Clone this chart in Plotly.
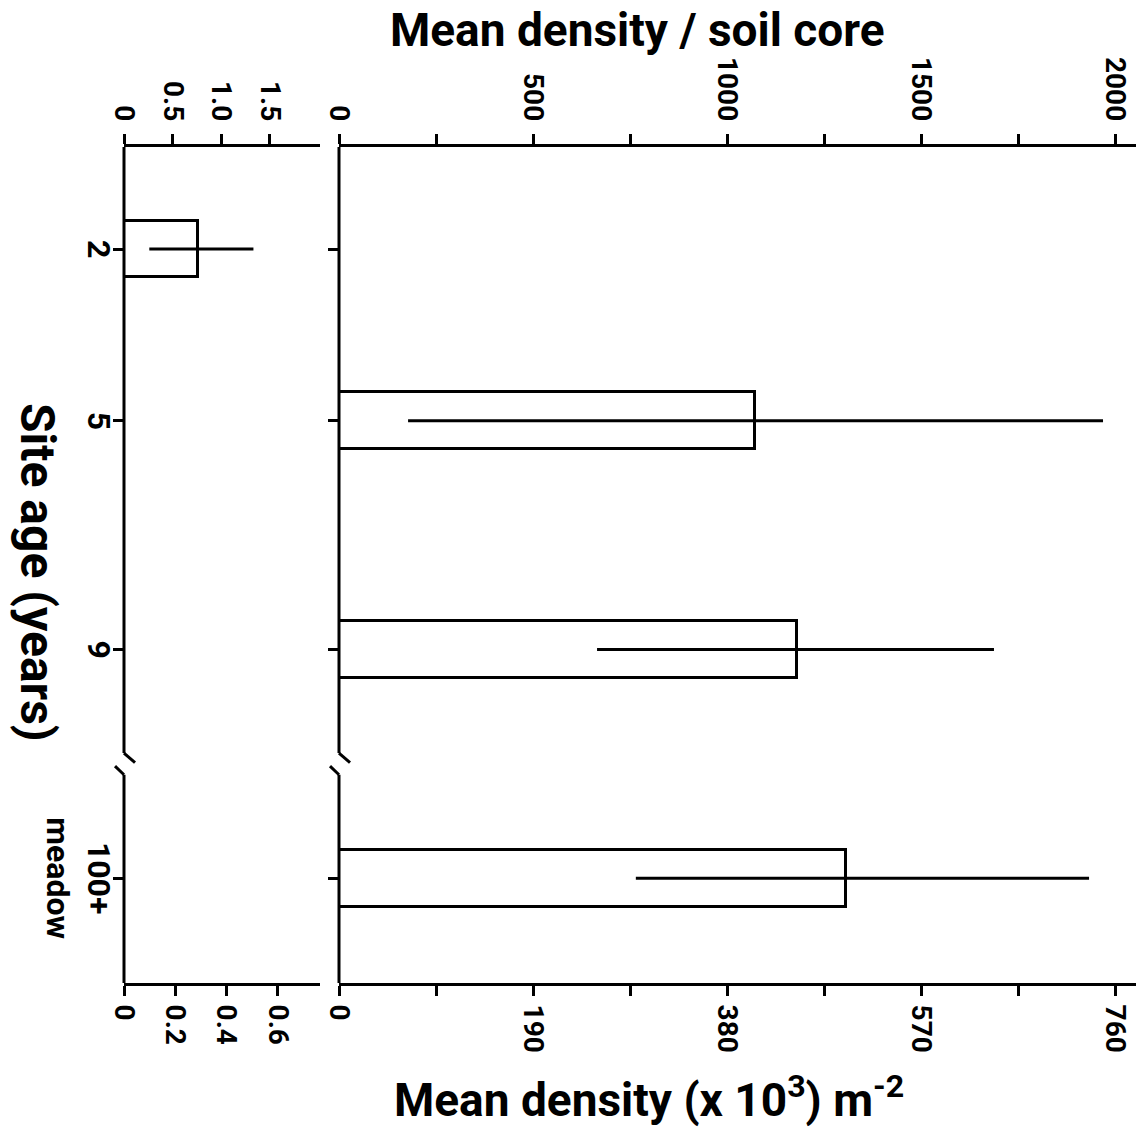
import plotly.graph_objects as go

# ---------------- data ----------------
site_labels = ["2", "5", "9", "100+<br>meadow"]
site_age = [2, 5, 9, 13]          # 100+ meadow drawn after the axis break
mean_core = [0.76, 1072, 1180, 1307]   # mean density per soil core
err_plus = [0.57, 897, 508, 626]
err_minus = [0.50, 894, 515, 542]
core_to_m2 = 0.38                 # (x10^3 m^-2) per (individuals / core)

left_top_ticks = [0, 0.5, 1.0, 1.5]
left_top_text = ["0", "0.5", "1.0", "1.5"]
left_bot_ticks = [0, 0.2, 0.4, 0.6]
left_bot_text = ["0", "0.2", "0.4", "0.6"]
right_top_ticks = [0, 500, 1000, 1500, 2000]
right_top_text = ["0", "500", "1000", "1500", "2000"]
right_top_minor = [250, 750, 1250, 1750]
right_bot_ticks = [0, 190, 380, 570, 760]
right_bot_text = ["0", "190", "380", "570", "760"]
right_bot_minor = [95, 285, 475, 665]

# ---------------- layout geometry (pixels) ----------------
W, H = 1142, 1133
LX0, LX1 = 124, 320
RX0, RX1 = 339, 1136
YT, YB = 147, 983
left_max = 2.014
right_max = 2054
y_range = [14.83, 0.217]
break_lo, break_hi = 10.81, 11.19

FONT = "Roboto, DejaVu Sans, sans-serif"
LW = 3

fig = go.Figure()

# left (expanded) panel: site 2
fig.add_trace(go.Bar(
    x=[mean_core[0]], y=[site_age[0]], orientation="h", width=0.98,
    marker=dict(color="white", line=dict(color="black", width=LW)),
    error_x=dict(type="data", symmetric=False, array=[err_plus[0]],
                 arrayminus=[err_minus[0]], color="black", thickness=LW, width=0),
    xaxis="x", yaxis="y", showlegend=False, hoverinfo="skip"))

# right panel: other sites
fig.add_trace(go.Bar(
    x=mean_core[1:], y=site_age[1:], orientation="h", width=1.0,
    marker=dict(color="white", line=dict(color="black", width=LW)),
    error_x=dict(type="data", symmetric=False, array=err_plus[1:],
                 arrayminus=err_minus[1:], color="black", thickness=LW, width=0),
    xaxis="x3", yaxis="y2", showlegend=False, hoverinfo="skip"))

# invisible traces so the bottom (m^-2) axes are drawn
fig.add_trace(go.Scatter(x=[0], y=[site_age[0]], mode="markers", opacity=0,
                         xaxis="x2", yaxis="y", showlegend=False, hoverinfo="skip"))
fig.add_trace(go.Scatter(x=[0], y=[site_age[1]], mode="markers", opacity=0,
                         xaxis="x4", yaxis="y2", showlegend=False, hoverinfo="skip"))

tickfont = dict(family=FONT, size=28, color="black", weight="bold")

def xax(domain, rng, ticks, text, side, overlay=None, anchor="y", minor=None):
    d = dict(domain=domain, range=rng, side=side, tickvals=ticks, ticktext=text,
             tickangle=90, ticks="outside", ticklen=10, tickwidth=LW,
             tickcolor="black", showline=True, linecolor="black", linewidth=LW,
             showgrid=False, zeroline=False, tickfont=tickfont,
             automargin=False, fixedrange=True, anchor=anchor,
             ticklabelstandoff=3)
    if overlay:
        d["overlaying"] = overlay
    if minor:
        d["minor"] = dict(tickvals=minor, ticks="outside", ticklen=10,
                          tickwidth=LW, tickcolor="black", showgrid=False)
    return d

def yax(anchor):
    return dict(domain=yd, range=y_range, tickvals=site_age, showticklabels=False,
                ticks="outside", ticklen=10, tickwidth=LW, tickcolor="black",
                showline=False, showgrid=False, zeroline=False,
                automargin=False, fixedrange=True, anchor=anchor)

ld = [LX0 / W, LX1 / W]
rd = [RX0 / W, RX1 / W]
yd = [(H - YB) / H, (H - YT) / H]

fig.update_layout(
    width=W, height=H,
    margin=dict(l=0, r=0, t=0, b=0),
    paper_bgcolor="white", plot_bgcolor="white",
    bargap=0,
    xaxis=xax(ld, [0, left_max], left_top_ticks, left_top_text, "top", anchor="y"),
    xaxis2=xax(ld, [0, left_max * core_to_m2], left_bot_ticks, left_bot_text,
               "bottom", overlay="x", anchor="y"),
    xaxis3=xax(rd, [0, right_max], right_top_ticks, right_top_text, "top",
               anchor="y2", minor=right_top_minor),
    xaxis4=xax(rd, [0, right_max * core_to_m2], right_bot_ticks, right_bot_text,
               "bottom", overlay="x3", anchor="y2", minor=right_bot_minor),
    yaxis=yax("x"),
    yaxis2=yax("x3"),
)

# site-age labels (rotated like the rest of the figure)
for lab, age in zip(site_labels, site_age):
    fig.add_annotation(text=lab, xref="paper", yref="y", x=120 / W, y=age,
                       showarrow=False, textangle=90, xanchor="right",
                       yanchor="middle", align="center",
                       font=dict(family=FONT, size=32, color="black", weight="bold"))

# broken y-axis lines
shapes = []
line = dict(color="black", width=LW)
for ax_px in (LX0, RX0):
    xp = ax_px / W
    shapes.append(dict(type="line", xref="paper", yref="y", x0=xp, x1=xp,
                       y0=y_range[1], y1=break_lo, line=line))
    shapes.append(dict(type="line", xref="paper", yref="y", x0=xp, x1=(ax_px + 11) / W,
                       y0=break_lo, y1=break_lo + 0.17, line=line))
    shapes.append(dict(type="line", xref="paper", yref="y", x0=(ax_px - 9) / W, x1=xp,
                       y0=break_hi - 0.15, y1=break_hi, line=line))
    shapes.append(dict(type="line", xref="paper", yref="y", x0=xp, x1=xp,
                       y0=break_hi, y1=y_range[0], line=line))
fig.update_layout(shapes=shapes)

titlefont = dict(family=FONT, size=46, color="black", weight="bold")
fig.add_annotation(text="Mean density / soil core", xref="paper", yref="paper",
                   x=637 / W, y=1 - 30 / H, showarrow=False, font=titlefont,
                   xanchor="center", yanchor="middle")
fig.add_annotation(text="Mean density (x 10<sup>3</sup>) m<sup>-2</sup>", xref="paper",
                   yref="paper", x=649 / W, y=1 - 1097 / H, showarrow=False,
                   font=titlefont, xanchor="center", yanchor="middle")
fig.add_annotation(text="Site age (years)", xref="paper", yref="paper",
                   x=38 / W, y=1 - 572 / H, showarrow=False,
                   font=dict(family=FONT, size=48, color="black", weight="bold"),
                   textangle=90, xanchor="center", yanchor="middle")

fig.write_html("out.html")
